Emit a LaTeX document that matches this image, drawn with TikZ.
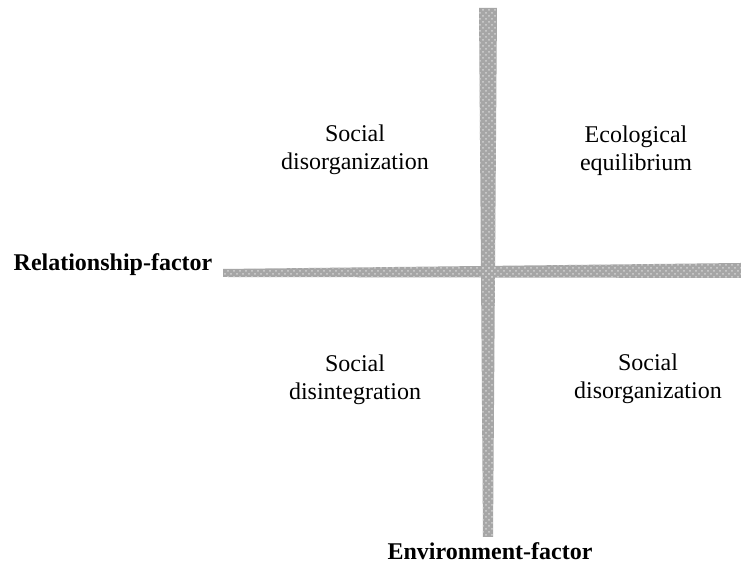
\documentclass[tikz,border=0pt]{standalone}
\usepackage{fontspec}
\setmainfont{Liberation Serif}
\usepackage{tikz}
\usetikzlibrary{patterns}
\tikzstyle{quadrant} = [align=center, font=\fontsize{12}{14}\selectfont, inner sep=1pt]
\tikzstyle{factor} = [font=\fontsize{12}{14}\selectfont\bfseries, inner sep=1pt]
\tikzstyle{bar} = [fill=gray!70]
\tikzstyle{grain} = [pattern=crosshatch dots, pattern color=gray!35]

\begin{document}
\begin{tikzpicture}[x=0.5pt, y=-0.5pt]
    \useasboundingbox (0,0) rectangle (741,565);

    % axes
    \fill [bar] (223,269) -- (741,263) -- (741,278) -- (223,277) -- cycle;
    \fill [bar] (479,8) -- (497,8) -- (493,537) -- (483,537) -- cycle;
    \fill [grain] (223,269) -- (741,263) -- (741,278) -- (223,277) -- cycle;
    \fill [grain] (479,8) -- (497,8) -- (493,537) -- (483,537) -- cycle;

    % quadrants
    \node [quadrant] (topleft) at (355,150) {Social\\disorganization};
    \node [quadrant] (topright) at (636,151) {Ecological\\equilibrium};
    \node [quadrant] (botleft) at (355,380) {Social\\disintegration};
    \node [quadrant] (botright) at (648,379) {Social\\disorganization};

    % axis labels
    \node [factor] (relation) at (113,265) {Relationship-factor};
    \node [factor] (environ) at (490,551) {Environment-factor};
\end{tikzpicture}
\end{document}
